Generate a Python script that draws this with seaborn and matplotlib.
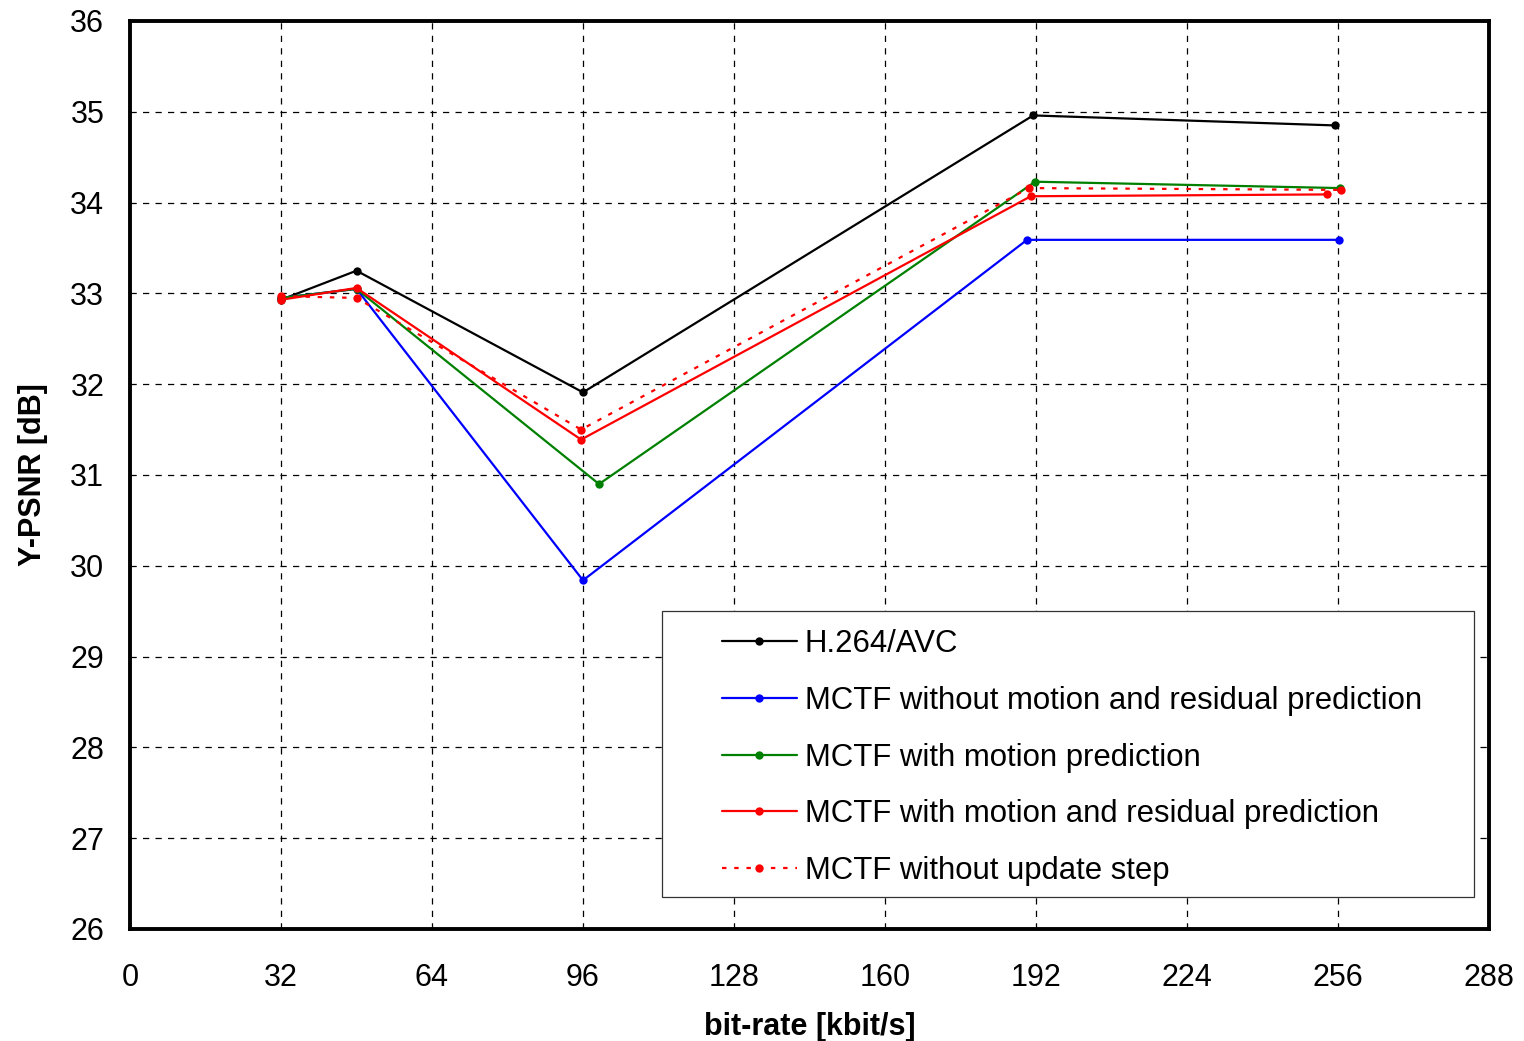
import pandas as pd
import matplotlib
matplotlib.use('Agg')
import matplotlib.pyplot as plt
from matplotlib.patches import Rectangle
import seaborn as sns

# values
series_names = ['H.264/AVC',
                'MCTF without motion and residual prediction',
                'MCTF with motion prediction',
                'MCTF with motion and residual prediction',
                'MCTF without update step']

rate_avc = [32, 48, 96, 191.4, 255.3]
psnr_avc = [32.93, 33.25, 31.91, 34.96, 34.85]

rate_nomr = [32, 48, 96, 190.1, 256.2]
psnr_nomr = [32.95, 33.05, 29.84, 33.59, 33.59]

rate_mp = [32, 48, 99.4, 191.8, 256.4]
psnr_mp = [32.95, 33.05, 30.90, 34.23, 34.16]

rate_mrp = [32, 48, 95.6, 190.9, 253.7]
psnr_mrp = [32.93, 33.06, 31.39, 34.07, 34.09]

rate_noupd = [32, 48, 95.6, 190.5, 256.6]
psnr_noupd = [32.97, 32.95, 31.50, 34.16, 34.14]

x_ticks = [0, 32, 64, 96, 128, 160, 192, 224, 256, 288]
y_ticks = [26, 27, 28, 29, 30, 31, 32, 33, 34, 35, 36]

frames = []
for name, r, p in zip(series_names,
                      [rate_avc, rate_nomr, rate_mp, rate_mrp, rate_noupd],
                      [psnr_avc, psnr_nomr, psnr_mp, psnr_mrp, psnr_noupd]):
    frames.append(pd.DataFrame({'rate': r, 'psnr': p, 'series': name}))
df = pd.concat(frames, ignore_index=True)

colors = ['black', 'blue', 'green', 'red', 'red']
dash_list = ['', '', '', '', (2, 3.5)]

sns.set_style('white')
plt.rcParams['font.family'] = ['Liberation Sans', 'DejaVu Sans']
plt.rcParams['text.color'] = 'black'
plt.rcParams['axes.labelcolor'] = 'black'

fig = plt.figure(figsize=(15.24, 10.41), dpi=100)
ax = fig.add_axes([130 / 1524, 1 - 929 / 1041, (1489 - 130) / 1524, (929 - 21) / 1041])

for name, c, d in zip(series_names, colors, dash_list):
    sub = df[df['series'] == name]
    sns.lineplot(data=sub, x='rate', y='psnr', ax=ax, color=c,
                 marker='o', markersize=6, markeredgewidth=0,
                 linewidth=1.6, label=name, sort=False, estimator=None)
    if d:
        ax.lines[-1].set_dashes(d)

ax.set_xlim(0, 288)
ax.set_ylim(26, 36)
ax.set_xticks(x_ticks)
ax.set_yticks(y_ticks)
ax.grid(True, color='black', linestyle=(0, (5, 5)), linewidth=0.9)
for s in ax.spines.values():
    s.set_linewidth(2.8)
    s.set_color('black')
ax.tick_params(axis='both', direction='inout', length=10, width=1.2,
               labelsize=22, colors='black')
ax.tick_params(axis='x', pad=19.5)
ax.tick_params(axis='y', pad=13.5)
ax.set_xlabel('bit-rate [kbit/s]', fontsize=22, fontweight='bold', labelpad=14)
ax.set_ylabel('Y-PSNR [dB]', fontsize=22, fontweight='bold', labelpad=16)

# legend box drawn as a separate frame so the wide left margin matches
ax.add_patch(Rectangle((0.3915, 0.0352), 0.989 - 0.3915, 0.350 - 0.0352,
                       transform=ax.transAxes, facecolor='white',
                       edgecolor='#333333', linewidth=0.9, zorder=4))
leg = ax.legend(loc='upper left', bbox_to_anchor=(0.4356, 0.3304), fontsize=22.4,
                frameon=False, handlelength=2.4, handletextpad=0.26,
                labelspacing=0.86, borderpad=0, borderaxespad=0)
leg.set_zorder(5)

fig.savefig('out.png', dpi=100)
